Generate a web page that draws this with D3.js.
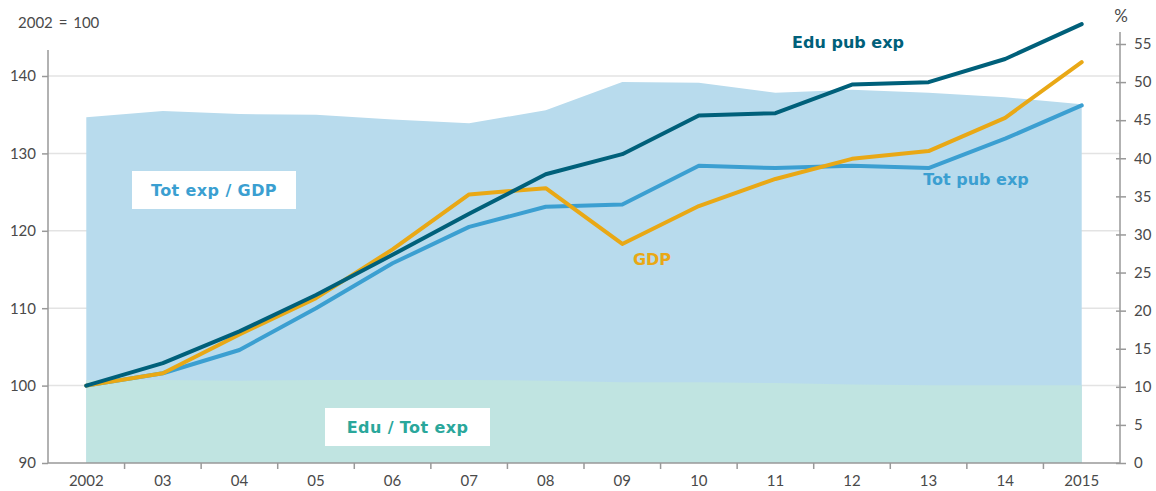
<!DOCTYPE html>
<html>
<head>
<meta charset="utf-8">
<script src="https://cdn.jsdelivr.net/npm/d3@7"></script>
<style>
  body { margin: 0; background: #fff; }
  svg text { font-family: "Lato", "DejaVu Sans", sans-serif; }
  .lbl { font-family: "DejaVu Sans", Verdana, sans-serif; font-weight: bold; }
</style>
</head>
<body>
<div id="chart"></div>
<script>
const years = ["2002", "03", "04", "05", "06", "07", "08", "09", "10", "11", "12", "13", "14", "2015"];

// index 2002 = 100 (left axis)
const eduPubExp = [100, 102.9, 107.0, 111.7, 116.9, 122.2, 127.3, 129.9, 134.9, 135.2, 138.9, 139.2, 142.2, 146.7];
const gdp = [100, 101.6, 106.6, 111.3, 117.6, 124.7, 125.5, 118.3, 123.2, 126.7, 129.3, 130.3, 134.6, 141.8];
const totPubExp = [100, 101.6, 104.6, 110.0, 115.8, 120.5, 123.1, 123.4, 128.4, 128.1, 128.4, 128.1, 131.9, 136.2];

// shares in % (right axis)
const totExpGdp = [45.4, 46.2, 45.8, 45.7, 45.1, 44.6, 46.3, 50.0, 49.9, 48.6, 49.0, 48.6, 48.0, 47.1];
const eduTotExp = [10.9, 10.9, 10.8, 10.9, 10.9, 10.9, 10.8, 10.6, 10.6, 10.5, 10.3, 10.2, 10.2, 10.2];

const leftTicks = [90, 100, 110, 120, 130, 140];
const rightTicks = d3.range(0, 56, 5);

const W = 1156, H = 491;
const x0 = 48, x1 = 1120, yBottom = 463;

const svg = d3.select("#chart").append("svg")
    .attr("width", W)
    .attr("height", H);

const x = d3.scaleBand().domain(years).range([x0, x1]);
const cx = d => x(d) + x.bandwidth() / 2;
const yL = d3.scaleLinear().domain([90, 140]).range([yBottom, 76]);
const yR = d3.scaleLinear().domain([0, 55]).range([yBottom, 44]);

// Gitterlinien (hinter den Flächen)
svg.append("g")
    .selectAll("line")
    .data(leftTicks.filter(t => t > 90))
    .enter().append("line")
    .attr("x1", x0).attr("x2", x1)
    .attr("y1", d => yL(d)).attr("y2", d => yL(d))
    .attr("stroke", "#e3e3e3")
    .attr("stroke-width", 1.5);

// Flächen (rechte Achse)
svg.append("path")
    .datum(totExpGdp)
    .attr("fill", "#b8dbed")
    .attr("d", d3.area().x((d, i) => cx(years[i])).y0(yR(0)).y1(d => yR(d)));

svg.append("path")
    .datum(eduTotExp)
    .attr("fill", "#c0e4e1")
    .attr("d", d3.area().x((d, i) => cx(years[i])).y0(yR(0)).y1(d => yR(d)));

// Linien
const line = d3.line().x((d, i) => cx(years[i])).y(d => yL(d));
const series = [
    { data: totPubExp, color: "#3b9fd1" },
    { data: gdp, color: "#e9a815" },
    { data: eduPubExp, color: "#00607a" }
];
series.forEach(s => {
    svg.append("path")
        .datum(s.data)
        .attr("fill", "none")
        .attr("stroke", s.color)
        .attr("stroke-width", 4)
        .attr("stroke-linecap", "round")
        .attr("stroke-linejoin", "round")
        .attr("d", line);
});

// Achsen
const axisStyle = g => {
    g.select(".domain").attr("stroke", "#999").attr("stroke-width", 1.5);
    g.selectAll(".tick line").attr("stroke", "#999").attr("stroke-width", 1.5);
    g.selectAll(".tick text")
        .attr("fill", "#4a4a4a")
        .attr("font-size", "15px")
        .style("font-family", "Lato, 'DejaVu Sans', sans-serif");
};

const gLeft = svg.append("g")
    .attr("transform", `translate(${x0},0)`)
    .call(d3.axisLeft(yL).tickValues(leftTicks).tickSize(6).tickSizeOuter(0).tickPadding(6));
gLeft.select(".domain").attr("d", `M0,50V${yBottom}`);
axisStyle(gLeft);

const gRight = svg.append("g")
    .attr("transform", `translate(${x1},0)`)
    .call(d3.axisRight(yR).tickValues(rightTicks).tickSize(6).tickSizeOuter(0).tickPadding(8));
gRight.select(".domain").attr("d", `M0,32V${yBottom}`);
gRight.selectAll(".tick line").attr("x1", -4);
axisStyle(gRight);

const gBottom = svg.append("g")
    .attr("transform", `translate(0,${yBottom})`)
    .call(d3.axisBottom(x).tickSize(0).tickPadding(12));
gBottom.select(".domain").attr("d", `M${x0},0H${x1}`);
gBottom.selectAll(".bandtick")
    .data(years.slice(1))
    .enter().append("line")
    .attr("x1", d => x(d)).attr("x2", d => x(d))
    .attr("y1", 0).attr("y2", 6);
axisStyle(gBottom);
gBottom.selectAll("line").attr("stroke", "#999").attr("stroke-width", 1.5);

// Achsentitel
svg.append("text")
    .attr("x", 18).attr("y", 28)
    .attr("fill", "#4a4a4a").attr("font-size", "15px")
    .attr("word-spacing", "2px")
    .text("2002 = 100");
svg.append("text")
    .attr("x", 1121).attr("y", 22)
    .attr("text-anchor", "middle")
    .attr("fill", "#4a4a4a").attr("font-size", "17px")
    .text("%");

// Beschriftungen der Linien
const labels = [
    { text: "Edu pub exp", x: 848, y: 48, color: "#00607a" },
    { text: "Tot pub exp", x: 976, y: 185, color: "#3b9fd1" },
    { text: "GDP", x: 652, y: 265, color: "#e9a815" }
];
labels.forEach(l => {
    svg.append("text")
        .attr("class", "lbl")
        .attr("x", l.x).attr("y", l.y)
        .attr("text-anchor", "middle")
        .attr("fill", l.color)
        .attr("font-size", "16px")
        .text(l.text);
});

// Boxen für die Flächen
const boxes = [
    { text: "Tot exp / GDP", x: 132, y: 171, w: 164, h: 38, color: "#3b9fd1" },
    { text: "Edu / Tot exp", x: 325, y: 408, w: 165, h: 38, color: "#2aa79b" }
];
boxes.forEach(b => {
    svg.append("rect")
        .attr("x", b.x).attr("y", b.y)
        .attr("width", b.w).attr("height", b.h)
        .attr("fill", "#fff");
    svg.append("text")
        .attr("class", "lbl")
        .attr("x", b.x + b.w / 2).attr("y", b.y + b.h / 2 + 6)
        .attr("text-anchor", "middle")
        .attr("fill", b.color)
        .attr("font-size", "16px")
        .attr("letter-spacing", "0.4px")
        .text(b.text);
});
</script>
</body>
</html>
